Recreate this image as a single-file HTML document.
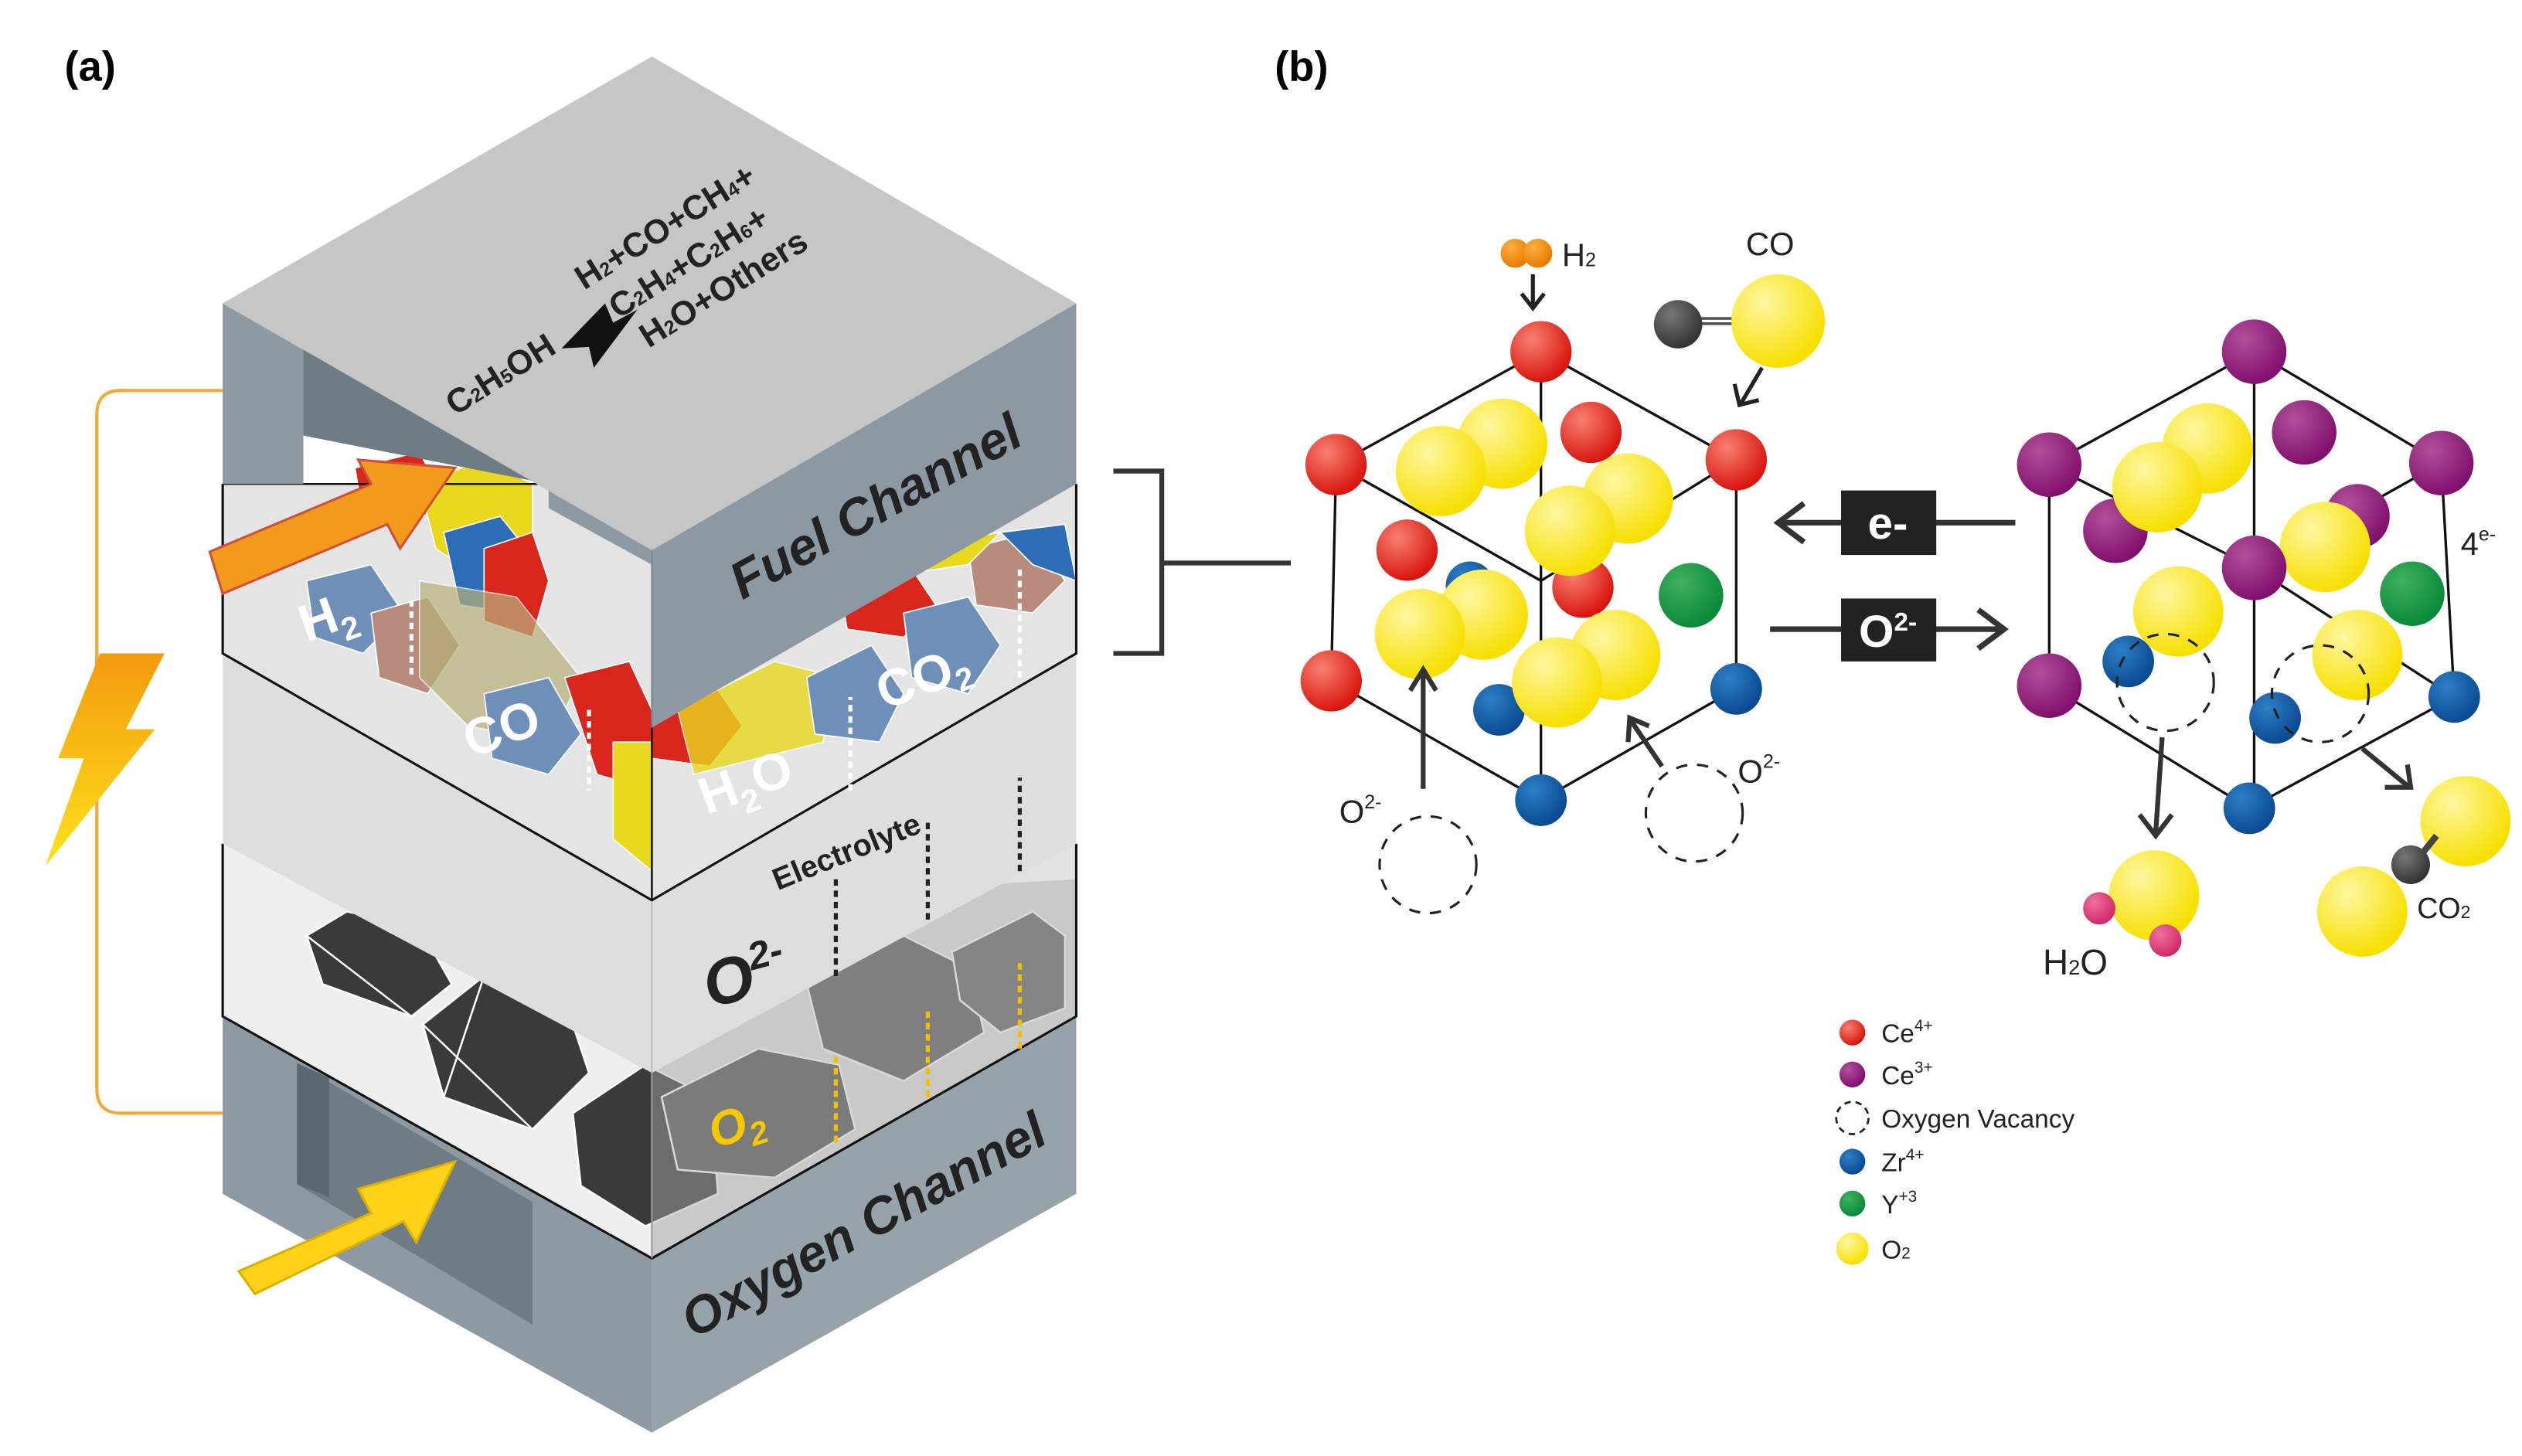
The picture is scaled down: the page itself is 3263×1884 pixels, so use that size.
<!DOCTYPE html>
<html><head><meta charset="utf-8"><style>
html,body{margin:0;padding:0;background:#fff;}
svg{display:block;}
text{font-family:"Liberation Sans",sans-serif;}
</style></head><body>
<svg width="3263" height="1884" viewBox="0 0 1563 902.5" preserveAspectRatio="none" xmlns="http://www.w3.org/2000/svg">
<defs>
<linearGradient id="bolt" x1="0" y1="0" x2="0" y2="1"><stop offset="0" stop-color="#f39a0e"/><stop offset="1" stop-color="#ffe21c"/></linearGradient>
<radialGradient id="red" cx="0.35" cy="0.3" r="0.7"><stop offset="0" stop-color="#f88070"/><stop offset="1" stop-color="#d8160e"/></radialGradient>
<radialGradient id="blu" cx="0.35" cy="0.3" r="0.7"><stop offset="0" stop-color="#2d7fc4"/><stop offset="1" stop-color="#0a4a92"/></radialGradient>
<radialGradient id="yel" cx="0.35" cy="0.3" r="0.7"><stop offset="0" stop-color="#fff7a0"/><stop offset="1" stop-color="#f7e000"/></radialGradient>
<radialGradient id="pur" cx="0.35" cy="0.3" r="0.7"><stop offset="0" stop-color="#b0509a"/><stop offset="1" stop-color="#82106e"/></radialGradient>
<radialGradient id="grn" cx="0.35" cy="0.3" r="0.7"><stop offset="0" stop-color="#40b060"/><stop offset="1" stop-color="#0a8a38"/></radialGradient>
<radialGradient id="gry" cx="0.35" cy="0.3" r="0.7"><stop offset="0" stop-color="#777"/><stop offset="1" stop-color="#333"/></radialGradient>
<radialGradient id="org" cx="0.35" cy="0.3" r="0.7"><stop offset="0" stop-color="#fbb040"/><stop offset="1" stop-color="#e87a00"/></radialGradient>
<radialGradient id="pnk" cx="0.35" cy="0.3" r="0.7"><stop offset="0" stop-color="#f070a0"/><stop offset="1" stop-color="#d02a6a"/></radialGradient>
</defs>

<text x="40" y="50" font-size="26" font-weight="bold">(a)</text>
<text x="790" y="50" font-size="26" font-weight="bold">(b)</text>

<path d="M138,242 H75 Q60,242 60,257 V675 Q60,690 75,690 H138" fill="none" stroke="#f2a93a" stroke-width="2"/>
<polygon points="62,405 102,405 78,452 96,452 28,537 52,470 36,470" fill="url(#bolt)"/>

<polygon points="138,630 404,780 404,888 138,740" fill="#8d9aa3"/>
<polygon points="404,780 667,630 667,740 404,888" fill="#97a3ab"/>
<polygon points="184,659 330,745 330,821 184,734" fill="#6e7c86"/>
<polygon points="184,659 204,668 204,742 184,734" fill="#5a6871"/>

<polygon points="138,523 404,440 667,523 667,630 404,780 138,630" fill="#e2e2e2"/>
<polygon points="138,523 404,660 404,780 138,630" fill="#efefef"/>
<g fill="#3a3a3a" stroke="#fff" stroke-width="1.2">
<polygon points="190,580 215,565 260,575 280,610 255,630 200,610"/>
<polygon points="262,635 300,605 350,620 365,665 330,700 275,680"/>
<polygon points="355,690 400,660 440,680 445,740 400,760 360,735"/>
<polygon points="410,680 470,650 520,660 530,700 480,730 420,725" fill="#555"/>
<polygon points="500,610 560,580 600,600 610,640 560,670 510,650" fill="#5c5c5c"/>
<polygon points="590,590 640,565 660,580 660,625 620,640 595,620" fill="#666"/>
<line x1="190" y1="580" x2="255" y2="630"/><line x1="262" y1="635" x2="330" y2="700"/><line x1="300" y1="605" x2="275" y2="680"/>
</g>
<polygon points="404,560 667,545 667,630 404,780" fill="#aaa" opacity="0.45"/>
<polyline points="138,523 138,630 404,780 667,630 667,523" fill="none" stroke="#111" stroke-width="1.5"/>
<line x1="404" y1="560" x2="404" y2="780" stroke="#999" stroke-width="1"/>

<polygon points="138,405 404,558 667,405 667,523 404,665 138,523" fill="#dedede"/>
<line x1="404" y1="558" x2="404" y2="665" stroke="#bbb"/>

<polygon points="138,300 404,300 667,300 667,405 404,558 138,405" fill="#e4e4e4"/>
<g stroke="#fff" stroke-width="0.8">
<polygon points="220,290 260,280 275,310 250,330 225,320" fill="#d9261c"/>
<polygon points="260,300 300,285 330,300 330,350 300,360 270,340" fill="#e8d81e"/>
<polygon points="275,330 310,320 330,345 320,380 285,375" fill="#2d6db5"/>
<polygon points="300,340 330,330 340,360 330,395 300,385" fill="#d9261c"/>
<polygon points="190,360 230,350 250,380 225,405 195,395" fill="#6d8fb8"/>
<polygon points="230,380 265,370 285,400 265,430 235,420" fill="#b98b7c"/>
<polygon points="260,360 320,370 360,420 340,460 290,450 260,420" fill="#b8b07a" opacity="0.7"/>
<polygon points="300,430 340,420 360,455 340,480 305,470" fill="#6d8fb8"/>
<polygon points="350,420 390,410 404,440 404,490 370,480" fill="#d9261c"/>
<polygon points="380,460 404,460 404,540 380,520" fill="#e8d81e"/>
<polygon points="404,440 440,420 460,450 440,475 404,470" fill="#d9261c"/>
<polygon points="420,440 480,410 520,420 510,460 430,480" fill="#e8d81e" opacity="0.8"/>
<polygon points="500,420 540,400 560,430 545,460 505,455" fill="#6d8fb8"/>
<polygon points="520,360 560,345 580,375 560,395 525,390" fill="#d9261c"/>
<polygon points="560,380 600,370 620,400 600,430 565,420" fill="#6d8fb8"/>
<polygon points="600,340 640,330 660,360 640,380 605,375" fill="#b98b7c"/>
<polygon points="620,330 660,325 667,360 640,350" fill="#2d6db5"/>
<polygon points="470,390 530,360 600,350 620,330 560,340 480,375" fill="#e8d81e"/>
</g>
<polyline points="138,300 138,405 404,558 667,405 667,300" fill="none" stroke="#111" stroke-width="1.5"/>
<line x1="404" y1="451" x2="404" y2="558" stroke="#111" stroke-width="1.2"/>
<line x1="138" y1="300" x2="335" y2="300" stroke="#111" stroke-width="1.2"/>

<polygon points="138,188 404,341 404,350 340,315 340,250 188,200 188,300 138,300" fill="#8d9aa3"/>
<polygon points="188,200 340,250 340,300 188,270" fill="#6e7c86"/>
<polygon points="404,341 667,188 667,300 404,451" fill="#8c99a2"/>
<polygon points="138,188 404,35 667,188 404,341" fill="#c6c6c6"/>
<line x1="404" y1="341" x2="404" y2="451" stroke="#7a8790" stroke-width="1"/>

<polygon points="130,342 230,300 222,285 282,290 248,340 240,325 138,368" fill="#f29a1b" stroke="#d0503a" stroke-width="1.5"/>
<polygon points="148,788 230,752 222,737 282,720 258,770 250,757 158,802" fill="#ffd21a" stroke="#e0b000" stroke-width="1.5"/>

<g stroke="#fff" stroke-width="2.5" stroke-dasharray="4,3" fill="none">
<line x1="255" y1="372" x2="255" y2="420"/><line x1="365" y1="440" x2="365" y2="490"/>
<line x1="527" y1="490" x2="527" y2="432"/><line x1="632" y1="420" x2="632" y2="352"/>
</g>
<g stroke="#222" stroke-width="2.5" stroke-dasharray="4,3" fill="none">
<line x1="518" y1="605" x2="518" y2="542"/><line x1="575" y1="570" x2="575" y2="510"/><line x1="632" y1="540" x2="632" y2="482"/>
</g>
<g stroke="#f2c000" stroke-width="2.5" stroke-dasharray="4,3" fill="none">
<line x1="518" y1="708" x2="518" y2="655"/><line x1="575" y1="680" x2="575" y2="625"/><line x1="632" y1="650" x2="632" y2="595"/>
</g>

<g font-weight="bold" font-style="italic" fill="#222">
<text transform="translate(460,372) rotate(-29)" font-size="32">Fuel Channel</text>
<text transform="translate(430,830) rotate(-29)" font-size="32">Oxygen Channel</text>
<text transform="translate(482,552) rotate(-22)" font-size="19" font-style="normal">Electrolyte</text>
<text transform="translate(440,625) rotate(-15)" font-size="40">O<tspan font-size="24" dy="-16">2-</tspan></text>
<text transform="translate(443,712) rotate(-18)" font-size="30" fill="#f6c800">O<tspan font-size="20" dy="6">2</tspan></text>
</g>
<g font-weight="bold" fill="#fff" font-size="32">
<text transform="translate(190,398) rotate(-20)">H<tspan font-size="20" dy="8">2</tspan></text>
<text transform="translate(292,470) rotate(-20)">CO</text>
<text transform="translate(438,505) rotate(-20)">H<tspan font-size="20" dy="8">2</tspan><tspan dy="-8">O</tspan></text>
<text transform="translate(548,440) rotate(-20)">CO<tspan font-size="20" dy="6">2</tspan></text>
</g>
<g font-weight="bold" fill="#222" font-size="21">
<text transform="translate(282,258) rotate(-32)">C<tspan font-size="12">2</tspan>H<tspan font-size="12">5</tspan>OH</text>
<text transform="translate(362,180) rotate(-32)">H<tspan font-size="12">2</tspan>+CO+CH<tspan font-size="12">4</tspan>+</text>
<text transform="translate(383,198) rotate(-32)">C<tspan font-size="12">2</tspan>H<tspan font-size="12">4</tspan>+C<tspan font-size="12">2</tspan>H<tspan font-size="12">6</tspan>+</text>
<text transform="translate(402,216) rotate(-32)">H<tspan font-size="12">2</tspan>O+Others</text>
</g>
<polygon points="348,216 375,188 380,200 395,192 368,228 365,215" fill="#111"/>

<g stroke="#333" stroke-width="3" fill="none">
<polyline points="690,292 720,292 720,405 690,405"/>
<line x1="720" y1="349" x2="800" y2="349"/>
</g>

<g stroke="#111" stroke-width="1.6" fill="none">
<polygon points="955,218 828,288 825,422 955,496 1076,427 1076,285"/>
<line x1="955" y1="218" x2="955" y2="496"/>
<line x1="828" y1="288" x2="955" y2="360"/><line x1="1076" y1="285" x2="955" y2="360"/>
</g>
<circle cx="986" cy="268" r="19" fill="url(#red)"/>
<circle cx="872" cy="341" r="19" fill="url(#red)"/>
<circle cx="911" cy="363" r="15" fill="url(#blu)"/>
<circle cx="981" cy="364" r="19" fill="url(#red)"/>
<circle cx="1048" cy="369" r="20" fill="url(#grn)"/>
<circle cx="931" cy="275" r="28" fill="url(#yel)"/>
<circle cx="893" cy="292" r="28" fill="url(#yel)"/>
<circle cx="1009" cy="309" r="28" fill="url(#yel)"/>
<circle cx="973" cy="329" r="28" fill="url(#yel)"/>
<circle cx="919" cy="381" r="28" fill="url(#yel)"/>
<circle cx="880" cy="393" r="28" fill="url(#yel)"/>
<circle cx="929" cy="440" r="16" fill="url(#blu)"/>
<circle cx="1001" cy="406" r="28" fill="url(#yel)"/>
<circle cx="965" cy="423" r="28" fill="url(#yel)"/>
<circle cx="955" cy="218" r="19" fill="url(#red)"/>
<circle cx="828" cy="288" r="19" fill="url(#red)"/>
<circle cx="1076" cy="285" r="19" fill="url(#red)"/>
<circle cx="825" cy="422" r="19" fill="url(#red)"/>
<circle cx="1076" cy="427" r="16" fill="url(#blu)"/>
<circle cx="955" cy="496" r="16" fill="url(#blu)"/>
<circle cx="939" cy="157" r="9" fill="url(#org)"/><circle cx="953" cy="157" r="9" fill="url(#org)"/>
<text x="968" y="165" font-size="20" fill="#222">H<tspan font-size="12">2</tspan></text>
<g stroke="#222" stroke-width="2.5" fill="none">
<line x1="950" y1="170" x2="950" y2="190"/><polyline points="943,182 950,191 957,182"/>
<line x1="1092" y1="228" x2="1079" y2="250"/><polyline points="1075,238 1078,251 1090,248"/>
</g>
<line x1="1050" y1="199" x2="1080" y2="199" stroke="#555" stroke-width="5"/>
<line x1="1050" y1="199" x2="1080" y2="199" stroke="#fff" stroke-width="1.5"/>
<circle cx="1040" cy="201" r="15" fill="url(#gry)"/>
<circle cx="1102" cy="199" r="29" fill="url(#yel)"/>
<text x="1082" y="158" font-size="20" fill="#222">CO</text>
<g stroke="#333" stroke-width="3" fill="none">
<line x1="882" y1="489" x2="882" y2="418"/><polyline points="874,428 882,415 890,428"/>
<line x1="1030" y1="475" x2="1011" y2="447"/><polyline points="1009,460 1010,445 1022,450"/>
</g>
<g stroke="#222" stroke-width="1.5" stroke-dasharray="7,6" fill="none">
<circle cx="885" cy="536" r="30"/><circle cx="1050" cy="504" r="30"/>
</g>
<text x="830" y="510" font-size="20" fill="#222">O<tspan font-size="12" dy="-9">2-</tspan></text>
<text x="1077" y="485" font-size="20" fill="#222">O<tspan font-size="12" dy="-9">2-</tspan></text>

<g stroke="#333" stroke-width="3.5" fill="none">
<line x1="1249" y1="324" x2="1102" y2="324"/><polyline points="1118,312 1102,324 1118,336"/>
<line x1="1097" y1="390" x2="1240" y2="390"/><polyline points="1226,378 1242,390 1226,402"/>
</g>
<rect x="1141" y="304" width="59" height="40" fill="#222"/>
<text x="1170" y="334" font-size="28" font-weight="bold" fill="#fff" text-anchor="middle">e-</text>
<rect x="1141" y="371" width="59" height="39" fill="#222"/>
<text x="1170" y="401" font-size="28" font-weight="bold" fill="#fff" text-anchor="middle">O<tspan font-size="16" dy="-10">2-</tspan></text>

<g stroke="#111" stroke-width="1.6" fill="none">
<polygon points="1397,218 1270,288 1270,425 1394,501 1521,432 1513,287"/>
<line x1="1397" y1="218" x2="1397" y2="501"/>
<line x1="1270" y1="288" x2="1397" y2="352"/><line x1="1513" y1="287" x2="1397" y2="352"/>
<line x1="1397" y1="352" x2="1521" y2="432"/>
</g>
<circle cx="1428" cy="268" r="20" fill="url(#pur)"/>
<circle cx="1311" cy="329" r="20" fill="url(#pur)"/>
<circle cx="1461" cy="320" r="20" fill="url(#pur)"/>
<circle cx="1495" cy="368" r="20" fill="url(#grn)"/>
<circle cx="1368" cy="278" r="28" fill="url(#yel)"/>
<circle cx="1337" cy="302" r="28" fill="url(#yel)"/>
<circle cx="1441" cy="339" r="28" fill="url(#yel)"/>
<circle cx="1350" cy="379" r="28" fill="url(#yel)"/>
<circle cx="1319" cy="410" r="16" fill="url(#blu)"/>
<circle cx="1461" cy="406" r="28" fill="url(#yel)"/>
<circle cx="1410" cy="445" r="16" fill="url(#blu)"/>
<g stroke="#222" stroke-width="1.5" stroke-dasharray="7,6" fill="none">
<circle cx="1342" cy="423" r="30"/><circle cx="1438" cy="430" r="30"/>
</g>
<circle cx="1397" cy="218" r="20" fill="url(#pur)"/>
<circle cx="1270" cy="288" r="20" fill="url(#pur)"/>
<circle cx="1513" cy="287" r="20" fill="url(#pur)"/>
<circle cx="1397" cy="352" r="20" fill="url(#pur)"/>
<circle cx="1270" cy="425" r="20" fill="url(#pur)"/>
<circle cx="1521" cy="432" r="16" fill="url(#blu)"/>
<circle cx="1394" cy="501" r="16" fill="url(#blu)"/>
<text x="1525" y="344" font-size="20" fill="#222">4<tspan font-size="12" dy="-9">e-</tspan></text>
<g stroke="#333" stroke-width="3" fill="none">
<line x1="1340" y1="457" x2="1336" y2="516"/><polyline points="1326,505 1336,518 1346,505"/>
<line x1="1464" y1="464" x2="1492" y2="487"/><polyline points="1478,488 1494,488 1492,474"/>
</g>
<circle cx="1335" cy="555" r="28" fill="url(#yel)"/>
<circle cx="1301" cy="563" r="10" fill="url(#pnk)"/>
<circle cx="1342" cy="583" r="10" fill="url(#pnk)"/>
<text x="1266" y="604" font-size="22" fill="#222">H<tspan font-size="13">2</tspan>O</text>
<circle cx="1528" cy="509" r="28" fill="url(#yel)"/>
<circle cx="1464" cy="565" r="28" fill="url(#yel)"/>
<line x1="1498" y1="533" x2="1510" y2="518" stroke="#444" stroke-width="4"/>
<circle cx="1494" cy="536" r="12" fill="url(#gry)"/>
<text x="1498" y="569" font-size="18" fill="#222">CO<tspan font-size="11">2</tspan></text>

<circle cx="1148" cy="640" r="8" fill="url(#red)"/>
<circle cx="1148" cy="666" r="8" fill="url(#pur)"/>
<circle cx="1148" cy="693" r="10" fill="none" stroke="#222" stroke-width="1.3" stroke-dasharray="4,3"/>
<circle cx="1148" cy="720" r="8" fill="url(#blu)"/>
<circle cx="1148" cy="746" r="8" fill="url(#grn)"/>
<circle cx="1148" cy="774" r="10" fill="url(#yel)"/>
<g font-size="16" fill="#222">
<text x="1166" y="646">Ce<tspan font-size="10" dy="-7">4+</tspan></text>
<text x="1166" y="672">Ce<tspan font-size="10" dy="-7">3+</tspan></text>
<text x="1166" y="699">Oxygen Vacancy</text>
<text x="1166" y="726">Zr<tspan font-size="10" dy="-7">4+</tspan></text>
<text x="1166" y="752">Y<tspan font-size="10" dy="-7">+3</tspan></text>
<text x="1166" y="780">O<tspan font-size="10">2</tspan></text>
</g>
</svg>
</body></html>
